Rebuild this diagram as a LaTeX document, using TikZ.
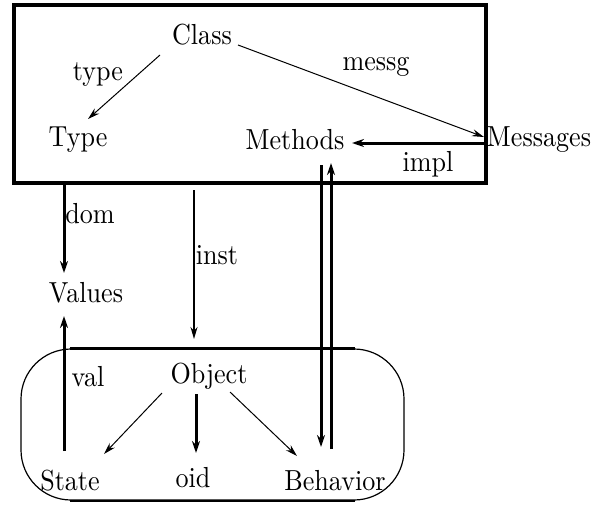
\documentclass[tikz,border=0pt]{standalone}
\usepackage{fontspec}
\setmainfont{lmroman10-regular.otf}[FakeStretch=0.9]
\usetikzlibrary{arrows.meta}
\begin{document}
\begin{tikzpicture}[x=1pt,y=-1pt,
  font=\fontsize{29}{33}\selectfont,
  txt/.style={inner sep=1pt},
  thinarr/.style={line width=1pt,-{Stealth[length=12pt,width=7pt]}},
  midarr/.style={line width=1.7pt,-{Stealth[length=12pt,width=7pt]}},
  thickarr/.style={line width=3pt,-{Stealth[length=12pt,width=8pt]}}]
\useasboundingbox (0,0) rectangle (604,506);
% frames
\node (clsbox) [draw, line width=3.2pt, minimum width=472pt, minimum height=178pt, inner sep=0pt] at (250,94) {};
\node (objbox) [draw, line width=1.2pt, rounded corners=50pt, minimum width=383pt, minimum height=151pt, inner sep=0pt] at (212.5,424.5) {};
\draw[line width=2.2pt] ([xshift=50pt]objbox.north west) -- ([xshift=-50pt]objbox.north east);
\draw[line width=2pt] ([xshift=50pt]objbox.south west) -- ([xshift=-50pt]objbox.south east);
% nodes
\node[txt] (Class) at (202,35) {Class};
\node[txt] (Type) at (78,140) {Type};
\node[txt] (Methods) at (295,140) {Methods};
\node[txt] (Messages) at (539,140) {Messages};
\node[txt] (Values) at (86,293) {Values};
\node[txt] (Object) at (209,376) {Object};
\node[txt] (State) at (70,481) {State};
\node[txt] (oid) at (193,478) {oid};
\node[txt] (Behavior) at (335,481) {Behavior};
% labels
\node[txt] (ltype) at (98,75) {type};
\node[txt] (lmessg) at (376,67) {messg};
\node[txt] (limpl) at (428,164) {impl};
\node[txt] (ldom) at (90,214) {dom};
\node[txt] (linst) at (217,255) {inst};
\node[txt] (lval) at (88,377) {val};
% coordinates
\coordinate (c1) at (160,55);  \coordinate (t1) at (88,119);
\coordinate (c2) at (238,45);  \coordinate (m1) at (484,137);
\coordinate (m2) at (485,143); \coordinate (me1) at (352,143);
\coordinate (me2) at (321,165); \coordinate (b1) at (321,447);
\coordinate (b2) at (331,449); \coordinate (me3) at (331,163);
\coordinate (d1) at (64,185);  \coordinate (v1) at (64,273);
\coordinate (i1) at (194,190); \coordinate (o1) at (194,339);
\coordinate (s1) at (64,451);  \coordinate (v2) at (64,316);
\coordinate (o2) at (162,393); \coordinate (s2) at (104,454);
\coordinate (o3) at (196,394); \coordinate (id1) at (196,453);
\coordinate (o4) at (230,392); \coordinate (b3) at (297,456);
% connectors
\draw[thinarr] (c1) -- (t1);
\draw[thinarr] (c2) -- (m1);
\draw[thickarr] (m2) -- (me1);
\draw[thickarr] (me2) -- (b1);
\draw[thickarr] (b2) -- (me3);
\draw[thickarr] (d1) -- (v1);
\draw[midarr] (i1) -- (o1);
\draw[thickarr] (s1) -- (v2);
\draw[thinarr] (o2) -- (s2);
\draw[thickarr] (o3) -- (id1);
\draw[thinarr] (o4) -- (b3);
\end{tikzpicture}
\end{document}
